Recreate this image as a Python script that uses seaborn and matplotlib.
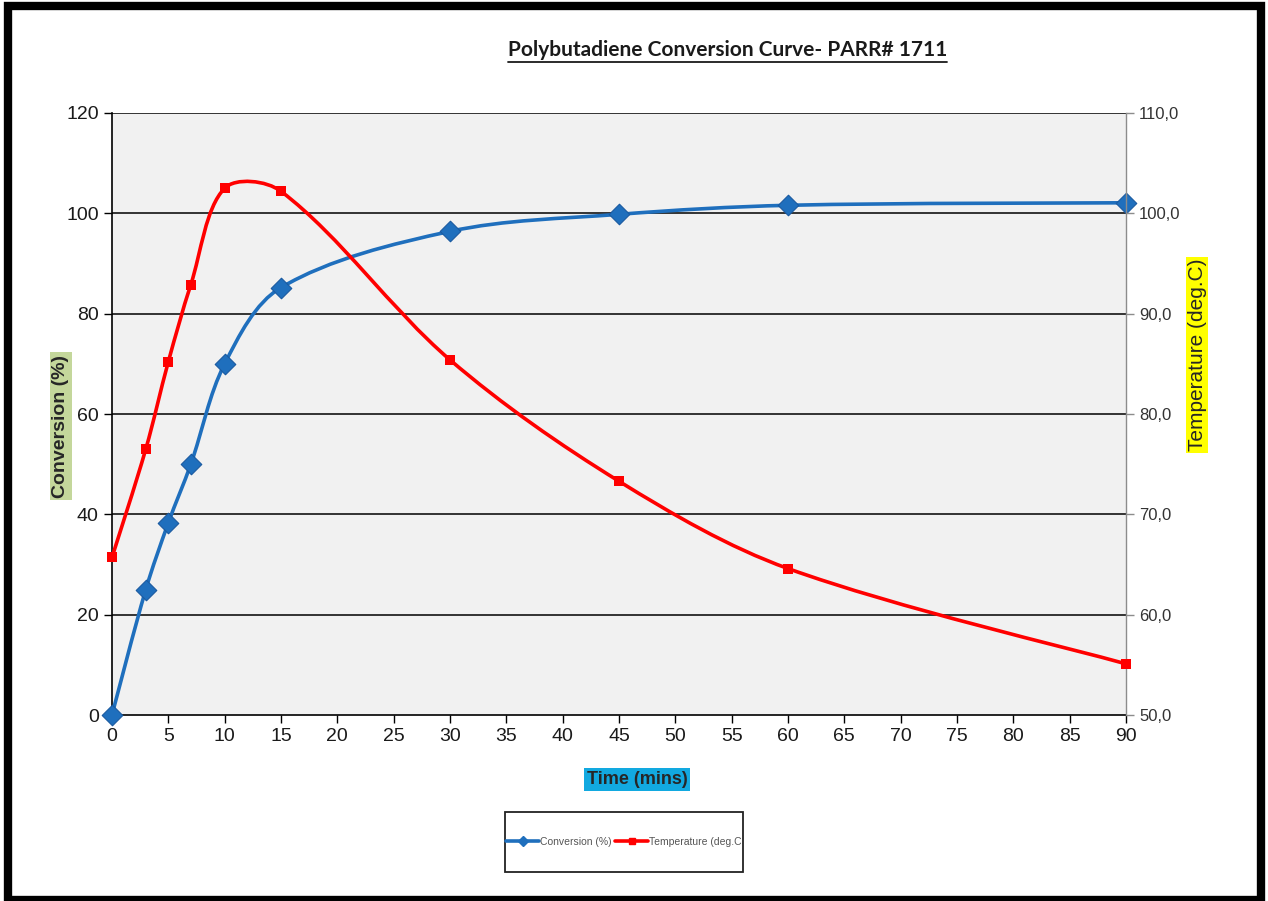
import numpy as np
import pandas as pd
import matplotlib
matplotlib.use('Agg')
import matplotlib.pyplot as plt
import seaborn as sns
from matplotlib.path import Path
from matplotlib.patches import PathPatch, Rectangle
from matplotlib.lines import Line2D
from matplotlib.ticker import FuncFormatter

# values
time_min = [0, 3, 5, 7, 10, 15, 30, 45, 60, 90]
conversion = [0, 25.0, 38.3, 50.0, 70.0, 85.2, 96.4, 99.8, 101.6, 102.1]
temperature = [65.7, 76.5, 85.2, 92.9, 102.5, 102.2, 85.4, 73.3, 64.6, 55.1]
x_ticks = list(range(0, 95, 5))
conv_ticks = list(range(0, 140, 20))
temp_ticks = list(range(50, 120, 10))

df = pd.DataFrame({'time': time_min, 'conversion': conversion, 'temperature': temperature})

sns.set_style('white')
plt.rcParams['font.family'] = ['Liberation Sans', 'DejaVu Sans']

blue = '#1f6fbd'
red = '#ff0000'


def smooth_path(axis, xs, ys):
    # Excel-like smoothed line: Bezier segments, tangents weighted by on-screen segment lengths
    pts = np.column_stack([xs, ys]).astype(float)
    scr = axis.transData.transform(pts)
    n = len(pts)
    verts = [pts[0]]
    codes = [Path.MOVETO]
    for i in range(n - 1):
        i0 = max(i - 1, 0)
        i3 = min(i + 2, n - 1)
        d01 = np.hypot(*(scr[i] - scr[i0]))
        d12 = np.hypot(*(scr[i + 1] - scr[i]))
        d23 = np.hypot(*(scr[i3] - scr[i + 1]))
        w1 = d12 / (d01 + d12) / 3 if d01 > 0 else 1 / 6
        w2 = d12 / (d12 + d23) / 3 if d23 > 0 else 1 / 6
        c1 = pts[i] + (pts[i + 1] - pts[i0]) * w1
        c2 = pts[i + 1] - (pts[i3] - pts[i]) * w2
        verts += [c1, c2, pts[i + 1]]
        codes += [Path.CURVE4] * 3
    return Path(verts, codes)


fig = plt.figure(figsize=(12.68, 9.01), dpi=100)
fig.patch.set_facecolor('white')
ax = fig.add_axes([0.0883, 0.2064, 0.7997, 0.6682])
ax.set_facecolor('#f1f1f1')
ax2 = ax.twinx()

ax.set_xlim(0, 90)
ax.set_ylim(0, 120)
ax2.set_ylim(50, 110)

# conversion on the left axis
ax.add_patch(PathPatch(smooth_path(ax, df['time'], df['conversion']), facecolor='none',
                       edgecolor=blue, lw=2.6, zorder=3))
sns.scatterplot(data=df, x='time', y='conversion', marker='D', s=110, color=blue,
                edgecolor='#1a5aa0', linewidth=0.8, ax=ax, zorder=4, clip_on=False)

# temperature on the right axis
ax2.add_patch(PathPatch(smooth_path(ax2, df['time'], df['temperature']), facecolor='none',
                        edgecolor=red, lw=2.6, zorder=3))
sns.scatterplot(data=df, x='time', y='temperature', marker='s', s=45, color=red,
                edgecolor=red, linewidth=0, ax=ax2, zorder=4, clip_on=False)

ax.set_xlim(0, 90)
ax.set_ylim(0, 120)
ax2.set_ylim(50, 110)
ax.set_xticks(x_ticks)
ax.set_yticks(conv_ticks)
ax2.set_yticks(temp_ticks)
ax2.yaxis.set_major_formatter(FuncFormatter(lambda v, p: f'{v:.1f}'.replace('.', ',')))

ax.grid(False)
ax2.grid(False)
for v in conv_ticks[1:]:
    ax.axhline(v, color='black', lw=1.1, zorder=1)

for s in ['top', 'right']:
    ax.spines[s].set_visible(False)
for s in ['top', 'left', 'bottom']:
    ax2.spines[s].set_visible(False)
ax.spines['left'].set_color('black')
ax.spines['bottom'].set_color('black')
ax.spines['left'].set_linewidth(1.2)
ax.spines['bottom'].set_linewidth(1.2)
ax2.spines['right'].set_color('#8c8c8c')
ax2.spines['right'].set_linewidth(1.0)

ax.tick_params(axis='both', which='major', direction='out', length=6, width=1, color='black',
               labelsize=14, labelcolor='#1a1a1a', left=True, bottom=True)
ax2.tick_params(axis='y', direction='out', length=6, width=1, color='#8c8c8c',
                labelsize=12, labelcolor='#333333', right=True)

ax.set_xlabel('Time (mins)', fontsize=13, fontweight='bold',
              bbox=dict(facecolor='#12a9e0', edgecolor='none', pad=2))
ax.xaxis.set_label_coords(0.518, -0.093)
ax.set_ylabel('Conversion (%)', fontsize=14, fontweight='bold',
              bbox=dict(facecolor='#c4d79b', edgecolor='none', pad=2))
ax.yaxis.set_label_coords(-0.042, 0.48)
ax2.set_ylabel('Temperature (deg.C)', fontsize=15,
               bbox=dict(facecolor='#ffff00', edgecolor='none', pad=1))
ax2.yaxis.set_label_coords(1.061, 0.598)

# title with underline
title = fig.text(0.574, 0.944, 'Polybutadiene Conversion Curve- PARR# 1711', ha='center',
                 va='center', fontsize=15, fontweight='bold', family=['Lato', 'DejaVu Sans'],
                 color='#1a1a1a')
fig.canvas.draw()
bb = title.get_window_extent().transformed(fig.transFigure.inverted())
fig.add_artist(Line2D([bb.x0, bb.x1], [bb.y0 - 0.002, bb.y0 - 0.002], color='#1a1a1a',
                      lw=1.3, transform=fig.transFigure))

# legend box
fig.add_artist(Rectangle((505 / 1268, 1 - 872 / 901), 238 / 1268, 60 / 901,
                         transform=fig.transFigure, facecolor='white', edgecolor='#222222', lw=1.3))
handles = [Line2D([], [], color=blue, lw=2.6, marker='D', ms=5),
           Line2D([], [], color=red, lw=2.6, marker='s', ms=4)]
fig.legend(handles, ['Conversion (%)', 'Temperature (deg.C'], loc='center',
           bbox_to_anchor=(624 / 1268, 1 - 842 / 901), ncol=2, frameon=False,
           prop={'size': 7.5}, labelcolor='#555555',
           handlelength=3.2, handletextpad=0.1, columnspacing=0.3)

# black frame around the picture
fig.add_artist(Rectangle((8 / 1268, 1 / 901), 1252.5 / 1268, 894.5 / 901, transform=fig.transFigure,
                         facecolor='none', edgecolor='black', lw=6))

fig.savefig('out.png', dpi=100)
